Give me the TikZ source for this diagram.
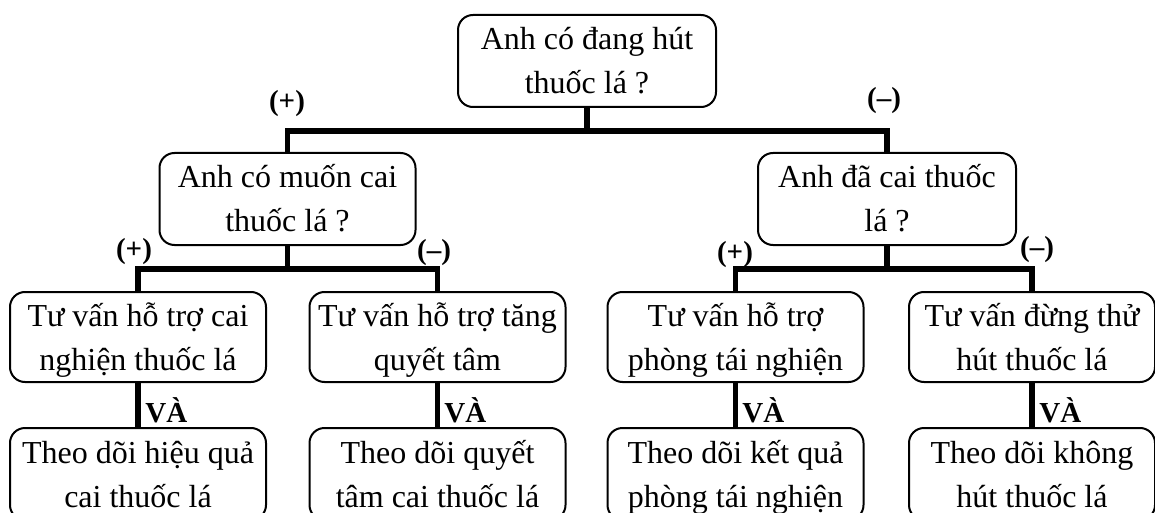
\documentclass[tikz,border=0pt]{standalone}
\usepackage{fontspec}
\setmainfont{Liberation Serif}
\begin{document}
\begin{tikzpicture}[x=0.5pt,y=-0.5pt,
  box/.style={draw, line width=1pt, rounded corners=7.5pt, align=center,
    font=\fontsize{16}{22}\selectfont, inner sep=0pt,
    minimum width=128pt, minimum height=45pt,
    text height=36.5pt, text depth=3.5pt},
  conn/.style={line width=2.6pt, line join=miter},
  sign/.style={font=\bfseries\fontsize{14.5}{16}\selectfont, inner sep=0pt},
]
\useasboundingbox (0,0) rectangle (1155,513);
\clip (0,0) rectangle (1155,513);

\node[box, minimum width=129pt, minimum height=46pt] (top) at (587,61) {Anh có đang hút\\thuốc lá ?};
\node[box, minimum height=46pt] (ml) at (287.5,199) {Anh có muốn cai\\thuốc lá ?};
\node[box, minimum width=129pt, minimum height=46pt] (mr) at (887,199) {Anh đã cai thuốc\\lá ?};

\node[box] (a1) at (138,337) {Tư vấn hỗ trợ cai\\nghiện thuốc lá};
\node[box] (b1) at (437.5,337) {Tư vấn hỗ trợ tăng\\quyết tâm};
\node[box] (c1) at (735.5,337) {Tư vấn hỗ trợ\\phòng tái nghiện};
\node[box, minimum width=123pt] (d1) at (1032,337) {Tư vấn đừng thử\\hút thuốc lá};

\node[box, minimum height=46pt] (a2) at (138,474) {Theo dõi hiệu quả\\cai thuốc lá};
\node[box, minimum height=46pt] (b2) at (437.5,474) {Theo dõi quyết\\tâm cai thuốc lá};
\node[box, minimum height=46pt] (c2) at (735.5,474) {Theo dõi kết quả\\phòng tái nghiện};
\node[box, minimum width=123pt, minimum height=46pt] (d2) at (1032,474) {Theo dõi không\\hút thuốc lá};

\coordinate (bar0) at (587,131);
\coordinate (barL) at (287,269);
\coordinate (barR) at (887,269);

\draw[conn] (top.south) -- (top.south |- bar0);
\draw[conn] (ml.north) -- (ml.north |- bar0) -- (mr.north |- bar0) -- (mr.north);

\draw[conn] (ml.south) -- (ml.south |- barL);
\draw[conn] (a1.north) -- (a1.north |- barL) -- (b1.north |- barL) -- (b1.north);
\draw[conn] (mr.south) -- (mr.south |- barR);
\draw[conn] (c1.north) -- (c1.north |- barR) -- (d1.north |- barR) -- (d1.north);

\draw[conn] (a1.south) -- (a2.north);
\draw[conn] (b1.south) -- (b2.north);
\draw[conn] (c1.south) -- (c2.north);
\draw[conn] (d1.south) -- (d2.north);

\node[sign] (s1) at (287,104) {(+)};
\node[sign] (s2) at (884,101) {(–)};
\node[sign] (s3) at (134,252) {(+)};
\node[sign] (s4) at (434,253) {(–)};
\node[sign] (s5) at (735,255) {(+)};
\node[sign] (s6) at (1037,250) {(–)};

\node[sign, anchor=west] (v1) at (145,410) {VÀ};
\node[sign, anchor=west] (v2) at (444,410) {VÀ};
\node[sign, anchor=west] (v3) at (742,410) {VÀ};
\node[sign, anchor=west] (v4) at (1039,410) {VÀ};
\end{tikzpicture}
\end{document}
